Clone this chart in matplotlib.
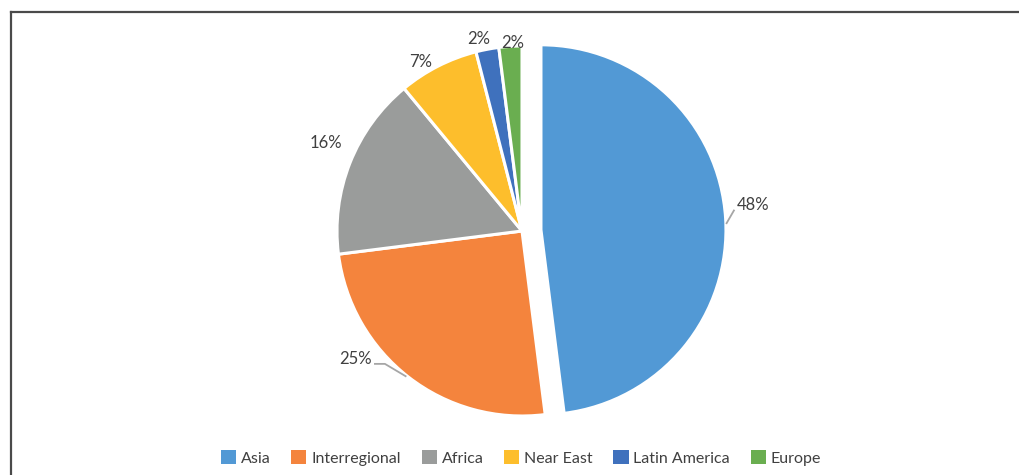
import numpy as np
import matplotlib.pyplot as plt
from matplotlib.lines import Line2D
from matplotlib.patches import Patch

# share of projects by region
regions = ['Asia', 'Interregional', 'Africa', 'Near East', 'Latin America', 'Europe']
shares = [48, 25, 16, 7, 2, 2]
colors = ['#5299D5', '#F4843D', '#9A9C9B', '#FDBE2C', '#3F71BD', '#6AAE50']

plt.rcParams['font.family'] = ['Lato', 'DejaVu Sans']
txt_color = '#404040'

W, H = 1020, 475
fig = plt.figure(figsize=(W / 100, H / 100), dpi=100)
ax = fig.add_axes([0, 0, 1, 1])

cx, cy, r = 522, 244, 185
explode = [19, 0, 0, 0, 0, 0]
wedges, _ = ax.pie(shares, colors=colors, explode=explode, startangle=90,
                   counterclock=False, center=(cx, cy), radius=r,
                   wedgeprops=dict(edgecolor='white', linewidth=2.2))
ax.set_xlim(0, W)
ax.set_ylim(0, H)
ax.axis('off')

# label radius factor and angle nudge per slice
lab_r = [1.154, 1.133, 1.161, 1.067, 1.065, 1.017]
lab_da = [3.0, -14.6, -2.6, 4.0, 2.0, -0.9]

for i, (w, v) in enumerate(zip(wedges, shares)):
    mid = np.deg2rad((w.theta1 + w.theta2) / 2)
    ox, oy = w.center
    la = mid + np.deg2rad(lab_da[i])
    lx = ox + r * lab_r[i] * np.cos(la)
    ly = oy + r * lab_r[i] * np.sin(la)
    ax.text(lx, ly, f'{v}%', ha='center', va='center', fontsize=12,
            color=txt_color)
    ex, ey = ox + r * np.cos(mid), oy + r * np.sin(mid)
    if i == 0:
        kx = ox + r * 1.05 * np.cos(la)
        ky = oy + r * 1.05 * np.sin(la)
        ax.plot([ex + 1, kx], [ey - 5, ky - 3], color='#A6A6A6', lw=1.3)
    elif i == 1:
        ax.plot([ex - 3, lx + 29, lx + 19], [ey + 1, ly - 5, ly - 5],
                color='#A6A6A6', lw=1.3)

# outer frame (top and left edges)
fx, fy = 11.5 / W, 1 - 11.5 / H
fig.add_artist(Line2D([fx, fx], [0, fy], transform=fig.transFigure,
                      color='#4A4A4A', lw=1.6))
fig.add_artist(Line2D([fx, 1], [fy, fy], transform=fig.transFigure,
                      color='#4A4A4A', lw=1.6))

handles = [Patch(facecolor=c, edgecolor='none') for c in colors]
ax.legend(handles, regions, ncol=6, loc='center', frameon=False,
          bbox_to_anchor=(521 / W, 17 / H), bbox_transform=fig.transFigure,
          prop={'size': 11.5}, labelcolor=txt_color, handlelength=0.95,
          handleheight=0.9, handletextpad=0.3, columnspacing=1.3)

fig.savefig('out.png', dpi=100, facecolor='white')
